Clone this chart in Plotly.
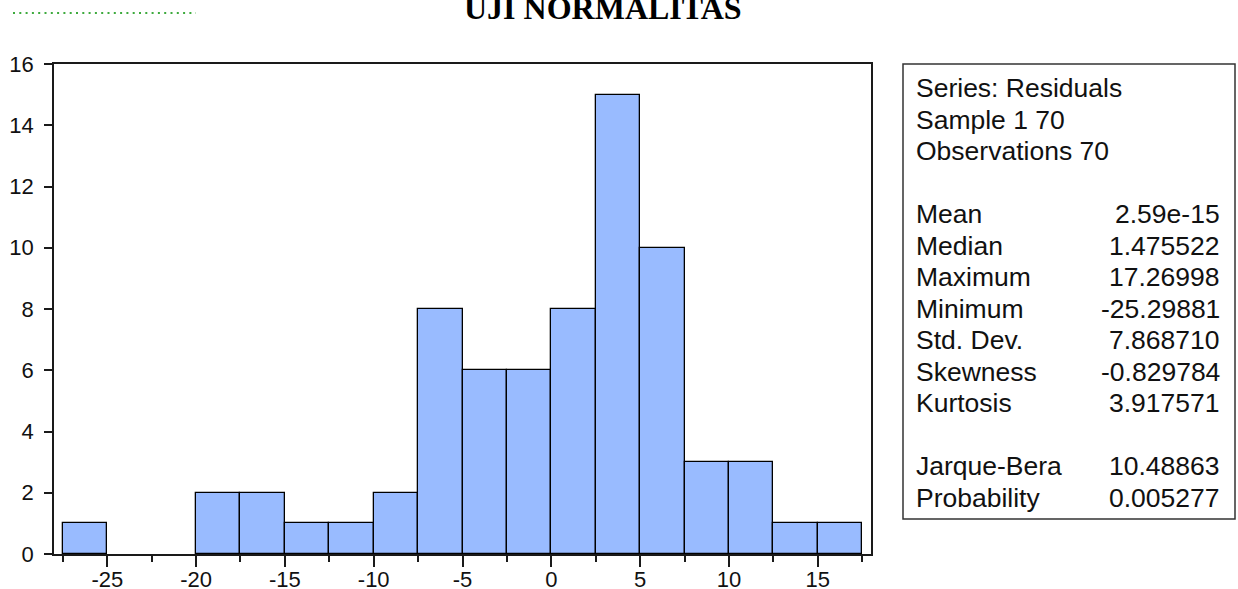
import plotly.graph_objects as go

# ---- data ----
bin_left = [-27.5, -25.0, -22.5, -20.0, -17.5, -15.0, -12.5, -10.0, -7.5, -5.0,
            -2.5, 0.0, 2.5, 5.0, 7.5, 10.0, 12.5, 15.0]
counts = [1, 0, 0, 2, 2, 1, 1, 2, 8, 6, 6, 8, 15, 10, 3, 3, 1, 1]
bin_width = 2.5

x_tickvals = [-25, -20, -15, -10, -5, 0, 5, 10, 15]
x_ticktext = ["-25", "-20", "-15", "-10", "-5", "0", "5", "10", "15"]
y_tickvals = [0, 2, 4, 6, 8, 10, 12, 14, 16]
y_ticktext = ["0", "2", "4", "6", "8", "10", "12", "14", "16"]

stat_header = ["Series: Residuals", "Sample 1 70", "Observations 70"]
stat_labels = ["Mean", "Median", "Maximum", "Minimum", "Std. Dev.", "Skewness", "Kurtosis"]
stat_values = ["2.59e-15", "1.475522", "17.26998", "-25.29881", "7.868710", "-0.829784", "3.917571"]
test_labels = ["Jarque-Bera", "Probability"]
test_values = ["10.48863", "0.005277"]

title_text = "UJI NORMALITAS"

# ---- layout geometry (pixels) ----
W, H = 1238, 589
ML, MR, MT, MB = 54, 367, 64, 35
PW, PH = W - ML - MR, H - MT - MB


def px(x):
    return (x - ML) / PW


def py(y):
    return (H - MB - y) / PH


fig = go.Figure()
fig.add_trace(go.Bar(
    x=bin_left, y=counts, width=bin_width, offset=0,
    marker=dict(color="#99bbff",
                line=dict(color="#000000", width=[1.3 if c > 0 else 0 for c in counts])),
    showlegend=False, hoverinfo="x+y",
))

axis_font = dict(family="Liberation Sans, Arial, sans-serif", size=22, color="#111111")

fig.update_layout(
    width=W, height=H,
    margin=dict(l=ML, r=MR, t=MT, b=MB, pad=0, autoexpand=False),
    paper_bgcolor="white", plot_bgcolor="white",
    bargap=0,
    xaxis=dict(
        range=[-28, 18], tickmode="array", tickvals=x_tickvals, ticktext=x_ticktext,
        ticks="outside", ticklen=11, tickwidth=1.5, tickcolor="#1a1a1a",
        showline=True, mirror=True, linecolor="#1a1a1a", linewidth=1.5,
        showgrid=False, zeroline=False, tickfont=axis_font,
        ticklabelstandoff=-6,
        minor=dict(tick0=0, dtick=2.5, ticks="outside", ticklen=6,
                   tickwidth=1.5, tickcolor="#1a1a1a", showgrid=False),
        automargin=False, fixedrange=True,
    ),
    yaxis=dict(
        range=[0, 16], tickmode="array", tickvals=y_tickvals, ticktext=y_ticktext,
        ticks="outside", ticklen=8, tickwidth=1.5, tickcolor="#1a1a1a",
        showline=True, mirror=True, linecolor="#1a1a1a", linewidth=1.5,
        showgrid=False, zeroline=False, tickfont=axis_font,
        ticklabelstandoff=6,
        automargin=False, fixedrange=True,
    ),
)

shapes = []
annotations = []

# green dotted leader line at top-left
shapes.append(dict(type="line", xref="paper", yref="paper",
                   x0=px(13), x1=px(196), y0=py(13), y1=py(13),
                   line=dict(color="#3daa3d", width=2, dash="2px,4.3px")))

# title
annotations.append(dict(text="<b>" + title_text + "</b>", xref="paper", yref="paper",
                        x=px(603), y=py(8), xanchor="center", yanchor="middle",
                        showarrow=False,
                        font=dict(family="Liberation Serif, Times New Roman, serif",
                                  size=32, color="#000000")))

# stats box
shapes.append(dict(type="rect", xref="paper", yref="paper",
                   x0=px(903), x1=px(1235), y0=py(519), y1=py(64),
                   line=dict(color="#333333", width=1.5), fillcolor="white"))

stat_font = dict(family="Liberation Sans, Arial, sans-serif", size=26.5, color="#111111")
x_lab, x_val = 914, 1222
y0_row, step = 88, 31.5


def row_y(i):
    return py(y0_row + i * step)


for i, t in enumerate(stat_header):
    annotations.append(dict(text=t, xref="paper", yref="paper", x=px(x_lab), y=row_y(i),
                            xanchor="left", yanchor="middle", showarrow=False, font=stat_font))
for j, (lab, val) in enumerate(zip(stat_labels, stat_values)):
    i = 4 + j
    annotations.append(dict(text=lab, xref="paper", yref="paper", x=px(x_lab), y=row_y(i),
                            xanchor="left", yanchor="middle", showarrow=False, font=stat_font))
    annotations.append(dict(text=val, xref="paper", yref="paper", x=px(x_val), y=row_y(i),
                            xanchor="right", yanchor="middle", showarrow=False, font=stat_font))
for j, (lab, val) in enumerate(zip(test_labels, test_values)):
    i = 12 + j
    annotations.append(dict(text=lab, xref="paper", yref="paper", x=px(x_lab), y=row_y(i),
                            xanchor="left", yanchor="middle", showarrow=False, font=stat_font))
    annotations.append(dict(text=val, xref="paper", yref="paper", x=px(x_val), y=row_y(i),
                            xanchor="right", yanchor="middle", showarrow=False, font=stat_font))

fig.update_layout(shapes=shapes, annotations=annotations)

fig.write_html(
    "out.html",
    config={"displayModeBar": False},
    post_script="document.body.style.margin='0';document.body.style.padding='0';"
                "document.body.style.overflow='hidden';",
)
